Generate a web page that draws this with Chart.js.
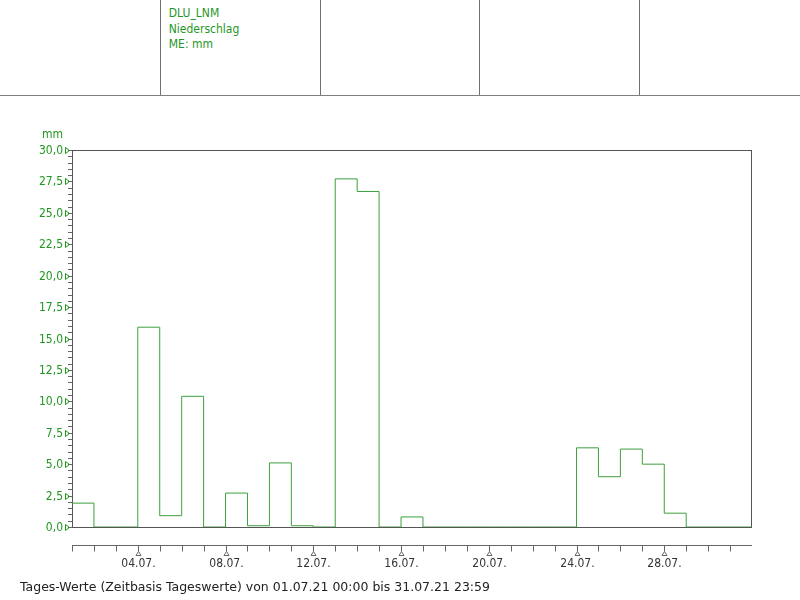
<!DOCTYPE html>
<html lang="de">
<head>
    <meta charset="UTF-8">
    <title>Niederschlag DLU_LNM</title>
    <script src="https://cdn.jsdelivr.net/npm/chart.js"></script>
    <style>
        body { margin: 0; background: #fff; font-family: "DejaVu Sans Condensed", "DejaVu Sans", sans-serif; }
        #wrap { position: relative; width: 800px; height: 600px; overflow: hidden; }
        #kopf { position: absolute; left: 0; top: 0; width: 800px; height: 95px; border-bottom: 1px solid #808080; display: flex; }
        .zelle { width: 160px; height: 95px; box-sizing: border-box; }
        .zelle.trenn { border-right: 1px solid #707070; }
        .info { color: #1f961f; font-size: 12px; line-height: 15.5px; padding: 6px 0 0 8px; }
        #fuss { position: absolute; left: 20px; top: 579px; font: 12.5px "DejaVu Sans", sans-serif; color: #222; white-space: nowrap; }
        canvas { position: absolute; left: 0; top: 0; }
    </style>
</head>
<body>
<div id="wrap">
    <div id="kopf">
        <div class="zelle trenn" style="width:161px"></div>
        <div class="zelle trenn info">DLU_LNM<br>Niederschlag<br>ME: mm</div>
        <div class="zelle trenn"></div>
        <div class="zelle trenn"></div>
        <div class="zelle"></div>
    </div>
    <canvas id="regenChart" width="800" height="600"></canvas>
    <div id="fuss">Tages-Werte (Zeitbasis Tageswerte) von 01.07.21 00:00 bis 31.07.21 23:59</div>
</div>

<script>
    // Tageswerte Juli 2021 (mm), Tag 1 bis 31
    const tage = ['01.07.', '02.07.', '03.07.', '04.07.', '05.07.', '06.07.', '07.07.', '08.07.',
                  '09.07.', '10.07.', '11.07.', '12.07.', '13.07.', '14.07.', '15.07.', '16.07.',
                  '17.07.', '18.07.', '19.07.', '20.07.', '21.07.', '22.07.', '23.07.', '24.07.',
                  '25.07.', '26.07.', '27.07.', '28.07.', '29.07.', '30.07.', '31.07.'];
    const niederschlag = [1.9, 0, 0, 15.9, 0.9, 10.4, 0, 2.7, 0.1, 5.1, 0.1, 0, 27.7, 26.7, 0, 0.8,
                          0, 0, 0, 0, 0, 0, 0, 6.3, 4.0, 6.2, 5.0, 1.1, 0, 0, 0];

    // Achsenbeschriftung
    const yTickWerte = [0, 2.5, 5, 7.5, 10, 12.5, 15, 17.5, 20, 22.5, 25, 27.5, 30];
    const yTickLabels = ['0,0', '2,5', '5,0', '7,5', '10,0', '12,5', '15,0', '17,5', '20,0', '22,5', '25,0', '27,5', '30,0'];
    const xTickTage = [3, 7, 11, 15, 19, 23, 27];
    const xTickLabels = ['04.07.', '08.07.', '12.07.', '16.07.', '20.07.', '24.07.', '28.07.'];

    const gruen = '#1f961f';
    const schrift = '12px "DejaVu Sans Condensed", "DejaVu Sans", sans-serif';

    // Treppenlinie: jeder Tag beginnt bei seinem Index, am Ende zurueck auf 0
    const punkte = niederschlag.map((v, i) => ({ x: i, y: v }));
    punkte.push({ x: tage.length, y: 0 });

    // Rahmen, Achsen und Markierungen zeichnen
    const achsenPlugin = {
        id: 'achsen',
        beforeDatasetsDraw(chart) {
            const { ctx, chartArea: a } = chart;
            ctx.save();
            ctx.strokeStyle = '#555';
            ctx.lineWidth = 1;
            ctx.strokeRect(a.left + 0.5, a.top + 0.5, a.right - a.left - 1, a.bottom - a.top);
            ctx.restore();
        },
        afterDraw(chart) {
            const { ctx, chartArea: a, scales } = chart;
            const xs = scales.x, ys = scales.y;
            ctx.save();
            ctx.lineWidth = 1;

            // kleine Teilstriche y
            ctx.strokeStyle = '#666';
            ctx.beginPath();
            for (let v = 0; v <= 30.001; v += 0.5) {
                const y = Math.round(ys.getPixelForValue(v)) + 0.5;
                ctx.moveTo(a.left - 4, y);
                ctx.lineTo(a.left, y);
            }
            ctx.stroke();

            // y Beschriftung + Dreiecke
            ctx.font = schrift;
            ctx.fillStyle = gruen;
            ctx.strokeStyle = gruen;
            ctx.textAlign = 'right';
            ctx.textBaseline = 'middle';
            yTickWerte.forEach((v, i) => {
                const y = Math.round(ys.getPixelForValue(v)) + 0.5;
                ctx.fillText(yTickLabels[i], a.left - 9, y);
                ctx.beginPath();
                ctx.moveTo(a.left - 6.5, y - 3);
                ctx.lineTo(a.left - 6.5, y + 3);
                ctx.lineTo(a.left - 2.5, y);
                ctx.closePath();
                ctx.stroke();
            });
            ctx.fillText('mm', a.left - 9, 135);

            // x Achse
            const yAchse = 545.5;
            ctx.strokeStyle = '#666';
            ctx.beginPath();
            ctx.moveTo(a.left, yAchse);
            ctx.lineTo(a.right, yAchse);
            for (let t = 0; t < tage.length; t++) {
                const x = Math.round(xs.getPixelForValue(t)) + 0.5;
                ctx.moveTo(x, yAchse);
                ctx.lineTo(x, yAchse + 6);
            }
            ctx.stroke();

            ctx.fillStyle = '#333';
            ctx.textAlign = 'center';
            xTickTage.forEach((t, i) => {
                const x = Math.round(xs.getPixelForValue(t)) + 0.5;
                ctx.beginPath();
                ctx.moveTo(x, yAchse + 6);
                ctx.lineTo(x - 2.5, yAchse + 10);
                ctx.lineTo(x + 2.5, yAchse + 10);
                ctx.closePath();
                ctx.stroke();
                ctx.fillText(xTickLabels[i], x, 564);
            });
            ctx.restore();
        }
    };

    const ctx = document.getElementById('regenChart').getContext('2d');
    new Chart(ctx, {
        type: 'line',
        data: {
            datasets: [{
                label: 'Niederschlag',
                data: punkte,
                stepped: true,
                borderColor: 'rgb(60,160,60)',
                borderWidth: 1,
                pointRadius: 0,
                fill: false
            }]
        },
        options: {
            responsive: false,
            animation: false,
            devicePixelRatio: 1,
            layout: { padding: { left: 72, right: 48, top: 150, bottom: 73 } },
            scales: {
                x: { type: 'linear', min: 0, max: tage.length, display: false },
                y: { min: 0, max: 30, display: false }
            },
            plugins: {
                legend: { display: false },
                tooltip: { enabled: false }
            }
        },
        plugins: [achsenPlugin]
    });
</script>
</body>
</html>
